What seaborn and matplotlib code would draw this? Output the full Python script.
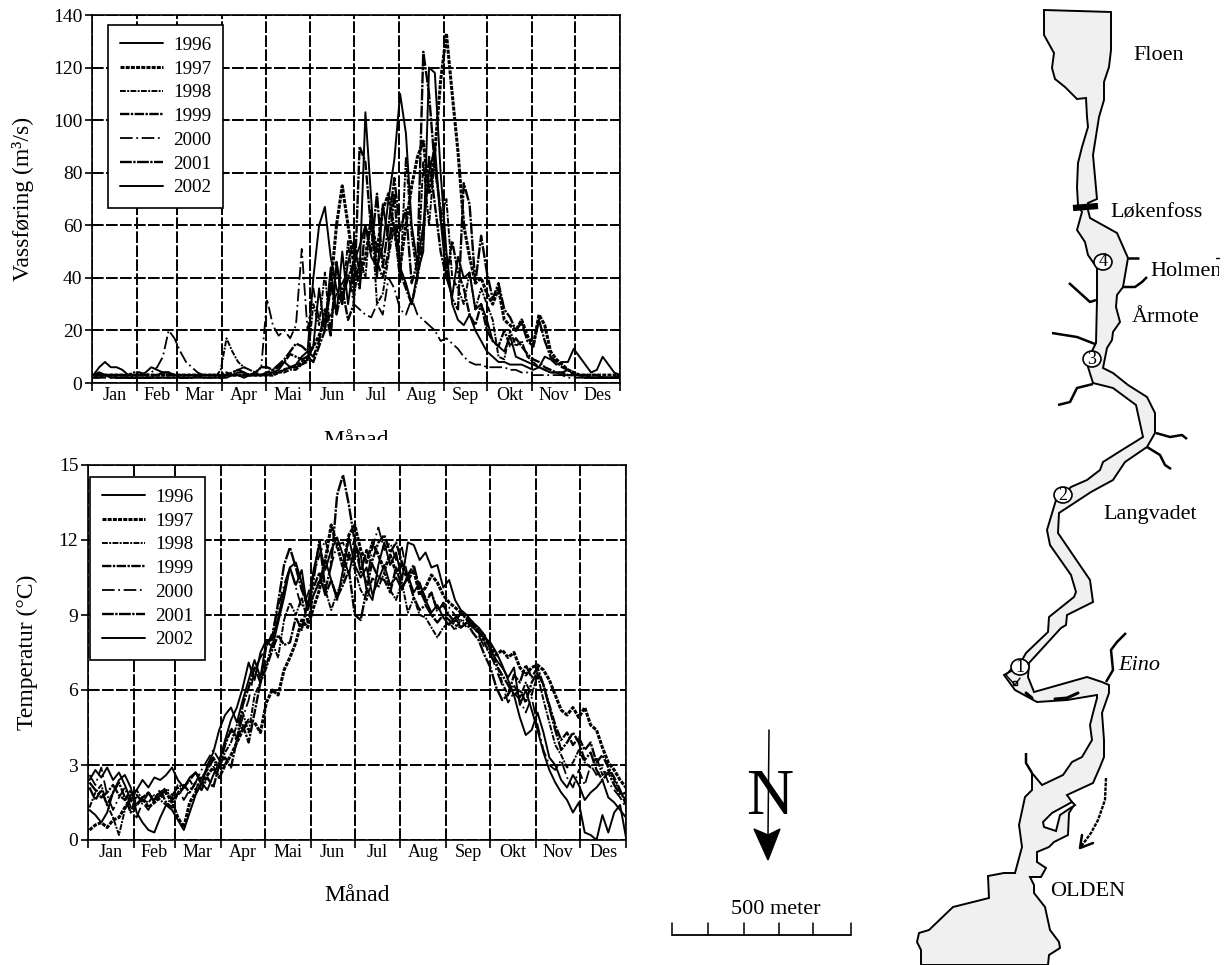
import matplotlib
matplotlib.use("Agg")
import matplotlib.pyplot as plt
import seaborn as sns
import numpy as np
from matplotlib.patches import Polygon, Ellipse
from matplotlib.transforms import Bbox, TransformedBbox

months = ["Jan","Feb","Mar","Apr","Mai","Jun","Jul","Aug","Sep","Okt","Nov","Des"]
month_edges = [0,31,59,90,120,151,181,212,243,273,304,334,365]
years = [1996,1997,1998,1999,2000,2001,2002]
days = list(range(1,366,4))

q1996 = [2,2,3,2,2,2,2,2,2,2, 2,2,2,2,2,2,2,2,2,2, 2,2,2,2,3,3,2,3,3,3, 3,4,4,5,6,6,7,9,14,36,
         20,44,26,50,30,46,52,60,48,44, 52,70,85,110,95,60,45,60,80,90, 62,40,33,48,40,42,28,30,24,16,
         14,12,18,10,9,8,7,6,5,4, 4,3,3,3,3,3,2,2,2,2,2,2]
q1997 = [3,3,3,3,3,3,3,3,3,3, 3,3,3,3,3,3,3,3,3,3, 3,3,2,3,3,3,3,3,3,3, 3,3,4,5,6,6,8,10,14,18,
         24,36,60,75,60,45,40,48,62,50, 66,72,58,44,60,75,86,92,72,88, 115,133,110,88,60,48,38,40,34,30,
         36,24,22,20,24,18,14,26,22,12, 9,7,5,4,3,3,3,3,3,3,3,3]
q1998 = [2,3,3,3,2,2,2,2,2,2, 2,2,2,2,2,3,3,3,3,2, 2,2,5,17,12,8,6,5,4,3, 3,3,4,4,5,5,7,8,30,22,
         42,18,46,30,54,32,48,40,66,30, 34,48,60,38,86,56,40,84,60,86, 62,70,40,36,30,42,28,36,30,24,
         10,9,20,14,16,10,8,6,5,4, 4,4,5,3,3,3,2,2,2,2,2,2]
q1999 = [3,3,3,3,3,3,3,4,4,3, 3,3,3,3,3,2,2,2,3,3, 3,3,3,3,4,5,4,3,4,6, 6,5,6,8,11,10,9,10,8,14,
         20,38,26,36,24,30,90,84,58,46, 40,50,72,42,36,30,40,55,86,68, 50,40,54,42,36,26,22,30,20,16,
         14,20,14,17,14,11,9,8,6,5, 4,4,3,3,3,2,2,2,2,2,2,3]
q2000 = [2,2,2,2,2,2,2,3,3,3, 4,6,10,20,17,12,8,6,4,3, 3,3,3,3,4,5,6,5,4,6, 32,22,18,20,17,22,51,20,36,24,
         22,26,34,38,42,30,28,26,25,30, 26,40,36,28,26,32,26,24,22,20, 16,17,15,13,10,8,7,7,6,6,
         6,6,5,5,4,4,3,3,3,3, 3,3,2,2,2,2,2,2,2,2,2,2]
q2001 = [3,4,3,3,3,3,2,2,2,2, 2,3,4,4,3,3,3,3,3,3, 3,3,3,4,3,3,3,3,3,3, 4,5,7,9,12,15,14,12,10,16,
         28,18,46,32,40,46,36,60,50,72, 44,60,78,58,66,38,46,126,110,82, 66,44,32,28,76,68,38,56,42,32,
         38,28,25,20,23,16,14,24,16,10, 8,6,5,4,3,3,3,3,2,2,2,2]
q2002 = [3,6,8,6,6,5,3,3,3,4, 6,5,4,4,3,3,3,3,3,3, 3,3,3,3,3,4,4,3,3,3, 4,4,5,8,6,7,10,12,40,60,
         67,48,36,30,46,54,42,103,70,40, 68,54,60,44,38,30,42,50,120,118, 80,50,30,24,22,26,20,16,12,10,
         8,8,7,7,7,6,5,6,10,9, 7,8,8,13,10,7,4,5,10,7,4,3]

t1996 = [2.4,2.8,2.5,2.9,2.4,2.7,2.2,1.6,2.0,2.4, 2.1,2.5,2.4,2.6,2.9,2.4,2.1,2.5,2.7,2.2,
         3.0,3.5,4.4,5.0,5.3,4.7,5.6,6.4,7.2,6.5, 8.0,7.7,8.7,9.7,10.9,10.2,10.8,9.2,9.8,10.3,
         11.2,10.4,9.6,10.8,12.1,11.0,10.5,10.9,9.8,10.4, 11.0,10.2,10.5,10.0,10.6,9.9,10.3,9.6,9.1,9.4,
         8.9,8.6,8.9,8.5,8.7,8.5,8.3,8.1,7.9,7.5, 7.0,6.4,5.8,4.9,4.2,4.4,5.1,4.3,3.3,3.0,
         2.4,2.1,2.6,2.2,1.6,1.9,2.1,2.4,1.7,1.5,1.2,0.9]
t1997 = [0.4,0.6,0.7,0.5,0.8,0.9,1.3,1.6,1.4,1.7, 1.3,1.5,1.7,1.9,1.5,0.9,0.5,1.5,1.9,2.2,
         2.6,2.9,2.5,3.0,3.4,3.9,4.4,4.8,4.7,4.3, 5.5,6.0,5.8,6.8,7.3,7.9,8.8,8.5,9.3,10.0,
         11.2,12.6,11.8,10.9,12.2,12.6,11.6,11.1,11.9,11.4, 10.8,11.4,10.7,11.0,10.4,10.8,9.8,10.1,10.6,10.3,
         9.8,9.5,9.3,9.1,8.9,8.7,8.4,8.0,7.8,7.4, 7.6,7.3,7.5,6.9,6.6,6.9,7.0,6.8,6.4,5.8,
         5.2,5.0,5.3,4.9,5.3,4.6,4.4,3.7,3.1,2.8,2.4,2.1]
t1998 = [1.3,1.9,2.2,1.4,0.9,0.2,1.2,1.8,2.0,1.6, 1.5,1.8,1.6,1.4,1.7,2.2,2.1,2.4,2.0,2.5,
         2.8,3.2,2.9,3.5,3.9,4.6,5.1,4.3,5.8,6.3, 7.0,7.9,7.3,8.8,9.5,9.0,9.7,8.7,9.8,10.4,
         10.0,9.2,9.9,10.4,11.5,10.8,10.0,9.6,10.5,10.1, 10.7,10.0,9.6,10.3,9.1,9.7,9.0,8.9,8.5,8.1,
         8.5,8.7,8.4,8.8,8.5,8.6,8.4,8.2,7.7,7.1, 6.3,5.8,6.2,5.7,6.3,5.8,6.6,5.6,4.7,3.8,
         3.4,2.9,3.1,3.6,3.1,2.9,3.3,2.6,2.8,2.4,1.9,1.6]
t1999 = [2.1,1.6,2.0,1.4,1.9,2.3,1.7,1.1,1.8,1.5, 1.9,1.6,2.0,1.5,1.3,1.9,2.2,1.9,2.3,2.0,
         2.5,2.1,3.0,3.3,2.9,4.0,4.6,3.9,5.1,6.3, 6.9,7.6,8.2,7.8,7.9,8.9,8.4,9.5,10.1,10.7,
         9.8,10.4,9.7,10.2,10.8,9.0,8.8,10.0,11.2,11.9, 12.2,11.5,11.9,11.1,10.6,11.0,10.0,9.5,9.9,9.2,
         9.4,9.0,8.7,9.1,8.8,8.6,8.3,7.9,7.4,7.0, 6.6,6.2,5.8,6.0,5.5,6.3,6.7,6.2,5.4,4.6,
         4.0,4.3,3.8,4.1,3.6,3.9,3.1,3.4,2.9,2.5,2.0,1.4]
t2000 = [2.6,2.2,2.9,1.8,1.2,1.7,2.1,1.3,0.9,1.5, 1.2,1.7,1.9,2.1,1.8,2.1,1.6,2.0,2.3,2.8,
         3.2,3.6,3.2,3.9,4.5,4.1,4.9,5.6,6.8,7.3, 7.7,8.3,9.3,10.2,10.9,10.1,9.3,9.8,10.6,11.4,
         12.0,11.0,11.8,11.9,11.2,12.1,10.9,10.3,11.7,12.5, 11.6,11.9,11.2,11.7,10.5,10.9,10.2,9.7,9.9,9.1,
         9.5,9.3,9.0,8.7,8.9,8.6,8.2,7.7,7.5,6.8, 6.2,5.5,5.9,5.6,5.1,5.7,4.6,3.6,3.0,2.8,
         3.2,2.5,2.1,2.8,2.2,3.0,2.6,2.9,2.3,2.0,1.7,1.3]
t2001 = [2.3,2.0,1.7,1.9,2.2,1.8,1.6,2.0,1.4,1.7, 1.9,1.5,1.8,2.0,1.6,1.8,2.1,2.4,2.7,2.4,
         2.9,3.3,2.9,3.8,4.4,4.0,5.4,6.1,6.9,6.3, 7.8,8.1,9.5,11.0,11.7,10.9,10.0,9.4,10.4,12.0,
         10.0,11.0,13.8,14.6,13.4,11.9,10.7,11.6,11.0,10.5, 10.4,9.9,10.9,10.1,10.5,9.7,9.2,9.4,9.0,8.7,
         9.0,8.8,8.6,8.5,8.7,8.3,8.0,7.4,6.9,6.1, 5.6,5.8,6.6,6.3,7.0,6.5,6.9,6.2,5.3,4.4,
         3.6,3.9,4.3,3.9,3.2,3.5,2.8,2.4,2.7,2.2,1.8,1.9]
t2002 = [1.2,1.0,0.7,1.1,1.9,2.4,2.6,2.1,1.1,0.7, 0.4,0.3,0.9,1.4,1.2,0.8,0.4,1.1,1.8,2.3,
         2.0,2.6,3.1,4.0,4.8,5.3,6.1,7.1,6.4,7.5, 8.0,8.0,8.9,10.0,10.9,11.1,10.3,9.2,10.8,11.8,
         10.8,11.6,12.1,11.4,10.6,11.8,11.4,10.0,9.6,11.0, 11.9,11.0,11.5,10.4,11.9,11.8,11.2,11.5,10.9,11.0,
         10.1,10.4,9.6,9.2,9.0,8.7,8.5,8.2,7.6,7.2, 6.9,6.5,6.9,5.4,6.0,5.2,4.4,3.5,2.8,2.3,
         1.9,1.6,1.1,1.5,0.3,0.2,0.0,1.0,0.3,1.1,1.4,0.1]

flows = [q1996,q1997,q1998,q1999,q2000,q2001,q2002]
temps = [t1996,t1997,t1998,t1999,t2000,t2001,t2002]
line_styles = ["-",(0,(1.3,0.4)),(0,(3,0.7,1,0.7)),(0,(4,0.6,1,0.6)),(0,(7,2,1,2)),(0,(5,0.6,1,0.6)),"-"]
line_widths = [1.4,2.2,1.4,1.7,1.3,1.7,1.4]

river_x = [1044,1044,1054,1052,1055,1065,1077,1086,1087,1088,1082,1078,1077,1078,1082,1077,1085,1088,1097,1097,1096,1091,1088,1093,1113,1136,1143,1122,1103,1100,1087,
           1071,1063,1056,1047,1050,1071,1076,1074,1049,1048,1026,1021,1013,1004,1015,1037,1067,1097,1097,1093,1090,1092,1082,1072,1063,1042,1032,1032,1025,1019,1022,1015,1004,988,989,953,929,919,917,921,921,
           1048,1049,1060,1059,1050,1045,1034,1034,1030,1041,1046,1037,1037,1049,1054,1068,1069,1074,1067,1093,1100,1104,1104,1102,1109,1109,1102,1087,1034,1028,1029,1061,1066,1067,1093,1090,1058,1059,1091,1113,
           1125,1147,1155,1155,1147,1128,1113,1103,1107,1112,1113,1120,1116,1117,1123,1128,1117,1108,1090,1088,1088,1097,1093,1099,1104,1104,1109,1111,1111]
river_y = [10,35,53,68,79,87,99,98,117,127,147,163,187,205,212,230,242,255,268,300,343,353,367,383,388,405,437,450,462,470,480,
           487,495,500,530,545,575,592,597,617,632,653,662,670,675,690,702,700,695,698,713,725,740,757,762,775,785,773,790,797,825,847,873,873,876,898,907,930,933,942,950,965,
           965,955,948,942,930,907,893,885,877,877,868,862,852,847,842,835,813,805,795,783,767,757,740,713,693,685,682,677,692,677,663,628,625,615,602,580,533,513,492,480,
           462,447,433,413,397,385,373,368,348,340,332,322,307,295,287,258,233,228,218,210,203,199,155,117,100,82,67,50,12]
island_x = [1072,1052,1043,1044,1056,1060,1075]
island_y = [802,813,822,827,831,815,805]
tributaries = [
    ([1128,1139],[258,258]),
    ([1122,1135,1142,1147],[287,287,282,277]),
    ([1069,1090,1096],[283,302,300]),
    ([1052,1077,1095],[333,337,344]),
    ([1093,1077,1070,1058],[384,388,402,405]),
    ([1156,1170,1182,1187],[433,437,435,439]),
    ([1147,1160,1165,1171],[447,455,465,469]),
    ([1106,1113,1111,1117,1126],[682,670,650,642,633]),
    ([1032,1026,1026],[773,763,753]),
]
sites = [("1",1020,667),("2",1063,495),("3",1092,359),("4",1103,262)]
places = [("Floen",1133,55),("Løkenfoss",1110,213),("Årmote",1132,318),("Langvadet",1103,514),("OLDEN",1050,892)]
scale_ticks = [672,708,744,779,813,851]

W, H = 1227, 965
sns.set_theme(style="white")
plt.rcParams["font.family"] = ["Liberation Serif", "DejaVu Sans"]
fig = plt.figure(figsize=(W/100, H/100), dpi=100, facecolor="white")

def place(l, t, r, b):
    return fig.add_axes([l/W, 1-b/H, (r-l)/W, (b-t)/H])

def panel(ax, series, ymax, step, ylabel, leg_xy, ylab_x, xlab_y):
    for yr, v, ls, lw in zip(years, series, line_styles, line_widths):
        sns.lineplot(x=days, y=v, ax=ax, color="black", linewidth=lw, linestyle=ls,
                     label=str(yr), errorbar=None, estimator=None, zorder=3)
    ax.set_xlim(0, 365); ax.set_ylim(0, ymax)
    ax.set_xticks(month_edges)
    ax.set_xticklabels([])
    mids = [(a+b)/2 for a, b in zip(month_edges[:-1], month_edges[1:])]
    ax.set_xticks(mids, minor=True)
    ax.set_xticklabels(months, minor=True, fontsize=13, color="black")
    ax.tick_params(axis="x", which="major", length=6, width=1.2, color="black", direction="out", bottom=True)
    ax.tick_params(axis="x", which="minor", length=0, pad=3)
    ax.set_yticks(np.arange(0, ymax+1, step))
    ax.tick_params(axis="y", length=5, width=1.2, color="black", labelsize=14, labelcolor="black", left=True, pad=2)
    ax.grid(True, which="major", color="black", linewidth=1.4, linestyle=(0, (6, 1.2)))
    ax.set_axisbelow(True)
    for s in ax.spines.values():
        s.set_color("black"); s.set_linewidth(1.2)
    ax.set_ylabel(ylabel, fontsize=17, color="black")
    ax.yaxis.set_label_coords(ylab_x, 0.5)
    ax.set_xlabel("Månad", fontsize=17, color="black")
    ax.xaxis.set_label_coords(0.5, xlab_y)
    h, l = ax.get_legend_handles_labels()
    leg = ax.legend(h, l, loc="upper left", bbox_to_anchor=leg_xy, borderaxespad=0, frameon=True,
                    fancybox=False, edgecolor="black", framealpha=1, fontsize=13.8,
                    handlelength=2.25, handletextpad=0.55, labelspacing=0.33, borderpad=0.6)
    leg.get_frame().set_linewidth(1.2)
    leg.set_zorder(5)
    for t in leg.get_texts():
        t.set_color("black")

ax1 = place(92, 15, 620, 383)
panel(ax1, flows, 140, 20, "Vassføring (m³/s)", ((108-92)/528, (383-25)/368), -0.109, -0.128)
ax2 = place(88, 465, 626, 840)
panel(ax2, temps, 15, 3, "Temperatur (°C)", ((90-88)/538, (840-477)/375), -0.093, -0.12)

# the upper Månad label is cut off in the reference
lab = ax1.xaxis.label
lab.set_clip_on(True)
lab.set_clip_box(TransformedBbox(Bbox.from_extents(0, 1-440/H, 1, 1), fig.transFigure))

# map, in the pixel frame of the page
ov = fig.add_axes([0, 0, 1, 1], zorder=-1)
ov.set_xlim(0, W); ov.set_ylim(H, 0); ov.axis("off")
ov.add_patch(Polygon(np.c_[river_x, river_y], closed=True, facecolor="#f0f0f0", edgecolor="black", linewidth=1.4))
ov.add_patch(Polygon(np.c_[island_x, island_y], closed=True, facecolor="white", edgecolor="black", linewidth=1.4))
for xs, ys in tributaries:
    ov.plot(xs, ys, color="black", linewidth=1.8, solid_capstyle="butt")
ov.plot([1073, 1098], [208, 206], color="black", linewidth=4.5, solid_capstyle="butt")
ov.plot([1026, 1032], [693, 698], color="black", linewidth=2.2)
ov.plot([1055, 1067, 1078], [699, 698, 693], color="black", linewidth=2.2)
ov.plot([1011, 1006, 1015, 1020], [669, 675, 685, 678], color="black", linewidth=1)
ov.add_patch(plt.Rectangle((1013, 681), 4, 4, fill=False, edgecolor="black", linewidth=1))
for lbl, x, y in sites:
    ov.add_patch(Ellipse((x, y), 18, 16, fill=True, facecolor="white", edgecolor="black", linewidth=1.2, zorder=4))
    ov.text(x, y, lbl, fontsize=13, ha="center", va="center", color="black", zorder=5)
for name, x, y in places:
    ov.text(x, y, name, fontsize=16, ha="left", va="center", color="black")
hol = ov.text(1150, 271, "Holmen", fontsize=16, ha="left", va="center", color="black", clip_on=True)
hol.set_clip_box(TransformedBbox(Bbox.from_extents(0, 0, 1219/W, 1), fig.transFigure))
ov.plot([1216, 1219], [258, 258], color="black", linewidth=1)
ov.text(1118, 666, "Eino", fontsize=16, style="italic", ha="left", va="center", color="black")

# flow arrow
ov.plot([1106, 1105, 1098, 1091, 1080], [778, 800, 820, 833, 848], color="black", linewidth=1.7, linestyle=(0, (1.5, 0.5)))
ov.plot([1082, 1080, 1093], [835, 848, 843], color="black", linewidth=1.8)

# north arrow
ov.text(770, 798, "N", fontsize=47, ha="center", va="center", color="black")
ov.plot([769, 768], [730, 835], color="black", linewidth=1.1)
ov.add_patch(Polygon([(754, 829), (768, 835), (780, 829), (768, 860)], closed=True, facecolor="black", edgecolor="black"))

# scale bar
ov.plot([scale_ticks[0], scale_ticks[-1]], [935, 935], color="black", linewidth=1.3)
for x in scale_ticks:
    ov.plot([x, x], [923, 935], color="black", linewidth=1.1)
ov.text(776, 909, "500 meter", fontsize=16, ha="center", va="center", color="black")

fig.savefig("out.png", dpi=100, facecolor="white")
